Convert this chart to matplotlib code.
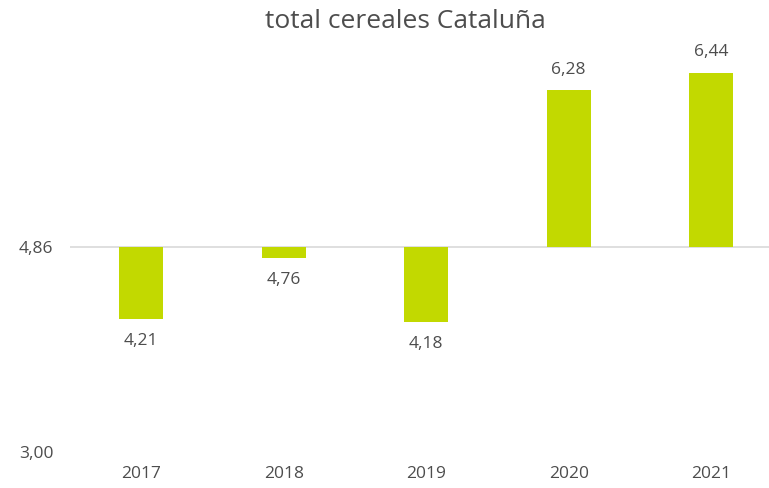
import numpy as np
import matplotlib.pyplot as plt

plt.rcParams['font.family'] = ['Open Sans', 'DejaVu Sans']

years = ['2017', '2018', '2019', '2020', '2021']
values = [4.21, 4.76, 4.18, 6.28, 6.44]
base = 4.86
bar_color = '#C2D900'
text_color = '#4D4D4D'

fig = plt.figure(figsize=(7.69, 4.88), dpi=100)
ax = fig.add_axes([70/769, (488-452)/488, 712.5/769, (452-42)/488])

x = np.arange(len(years))
heights = [v - base for v in values]
ax.bar(x, heights, bottom=base, width=0.31, color=bar_color, zorder=2)

# data labels: above positive bars, below negative ones
for xi, v in zip(x, values):
    lab = '{:.2f}'.format(v).replace('.', ',')
    if v >= base:
        ax.annotate(lab, (xi, v), xytext=(0, 9), textcoords='offset points',
                    ha='center', va='bottom', fontsize=12.5, color=text_color)
    else:
        ax.annotate(lab, (xi, v), xytext=(0, -10), textcoords='offset points',
                    ha='center', va='top', fontsize=12.5, color=text_color)

ax.axhline(base, color='#D9D9D9', lw=1.2, zorder=1)
ax.set_xlim(-0.5, len(years) - 0.5)
ax.set_ylim(3.0, 6.72)
ax.set_yticks([3.0, base])
ax.set_yticklabels(['3,00', '4,86'])
ax.set_xticks(x)
ax.set_xticklabels(years)
ax.tick_params(length=0, labelsize=12.5, labelcolor=text_color)
ax.tick_params(axis='x', pad=10)
ax.tick_params(axis='y', pad=12)
for s in ax.spines.values():
    s.set_visible(False)

fig.text(405/769, 1 - 22/488, 'total cereales Cataluña', ha='center', va='center',
         fontsize=19, color=text_color)

fig.savefig('out.png', dpi=100)
